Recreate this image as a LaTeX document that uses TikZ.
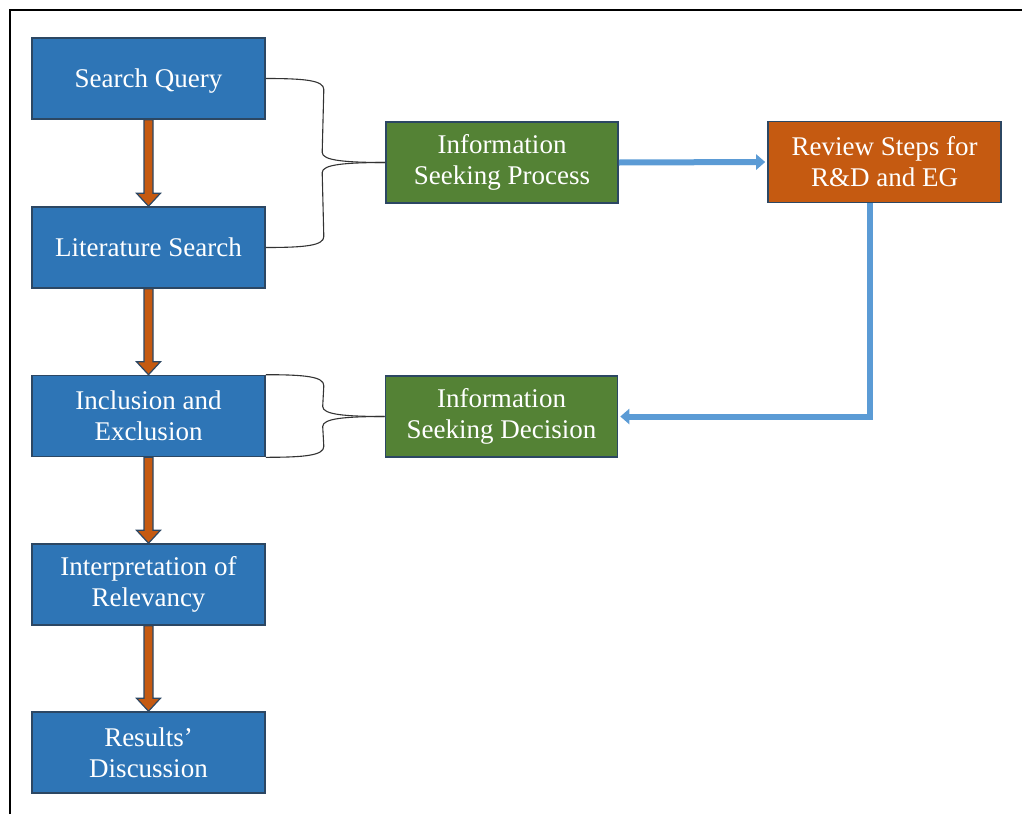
\documentclass[tikz,border=0pt]{standalone}
\usepackage{fontspec}
\setmainfont{Liberation Serif}
\usetikzlibrary{calc,arrows.meta}
\definecolor{boxblue}{HTML}{2E75B6}
\definecolor{boxgreen}{HTML}{548235}
\definecolor{boxorange}{HTML}{C55A11}
\definecolor{edgeblue}{HTML}{2C4763}
\definecolor{linkblue}{HTML}{5B9BD5}
\tikzset{
  stage/.style={draw=edgeblue, line width=1.6pt, minimum width=233pt, minimum height=81pt,
    inner sep=0pt, align=center, text=white,
    font=\fontsize{27}{31}\selectfont},
  stepbox/.style={stage, fill=boxblue},
  phasebox/.style={stage, fill=boxgreen, minimum width=232pt},
  reviewbox/.style={stage, fill=boxorange},
  flowarrow/.style={draw=edgeblue, fill=boxorange, line width=1.2pt, line join=miter},
  linkarrow/.style={draw=linkblue, line width=6pt,
    -{Triangle[width=15pt,length=9pt]}},
  bracket/.style={draw=black!80, line width=1.1pt},
}
% vertical block arrow between two stacked nodes
\newcommand\stagearrow[2]{%
  \path[flowarrow] ($(#1.south)+(-4.5,0)$) -- ($(#2.north)+(-4.5,-13)$)
    -- ($(#2.north)+(-12,-13)$) -- (#2.north) -- ($(#2.north)+(12,-13)$)
    -- ($(#2.north)+(4.5,-13)$) -- ($(#1.south)+(4.5,0)$) -- cycle;}
\begin{document}
\begin{tikzpicture}[x=1pt,y=-1pt]
\useasboundingbox (0,0) rectangle (1022,814);
% page frame
\coordinate (fl) at (10,814);
\coordinate (fc) at (10,10);
\coordinate (fr) at (1022,10);
\draw[line width=1.3pt] (fl) -- (fc) -- (fr);

% left column
\node[stepbox, text depth=0pt] (q) at (148.5,78.5) {Search Query};
\node[stepbox] (l) at (148.5,247.5) {Literature Search};
\node[stepbox] (i) at (148.5,416) {Inclusion and\\Exclusion};
\node[stepbox] (r) at (148.5,584.5) {Interpretation of\\Relevancy};
\node[stepbox] (s) at (148.5,752.5) {Results'\\Discussion};

% middle and right
\node[phasebox] (p) at (502,162.5) {Information\\Seeking Process};
\node[phasebox] (d) at (501.5,416.5) {Information\\Seeking Decision};
\node[reviewbox] (v) at (884.5,162) {Review Steps for\\R\&D and EG};

% block arrows down the column
\stagearrow{q}{l}
\stagearrow{l}{i}
\stagearrow{i}{r}
\stagearrow{r}{s}

% links through the review step
\draw[linkarrow, shorten >=2pt] (p.east) -- (v.west);
\draw[linkarrow, shorten >=2pt] ($(v.south)+(-15,0)$) |- (d.east);

% brace grouping the first two steps
\draw[bracket] (q.east) .. controls ($(q.east)+(40,0)$) and ($(q.east)+(58,2)$) .. ($(q.east)+(58,11)$)
  -- ($(p.west)+(-63,-10)$) .. controls ($(p.west)+(-63,-2)$) and ($(p.west)+(-40,0)$) .. (p.west);
\draw[bracket] (p.west) .. controls ($(p.west)+(-40,0)$) and ($(p.west)+(-63,2)$) .. ($(p.west)+(-63,10)$)
  -- ($(l.east)+(58,-11)$) .. controls ($(l.east)+(58,-2)$) and ($(l.east)+(40,0)$) .. (l.east);

% brace spanning the inclusion step
\draw[bracket] (i.north east) .. controls ($(i.north east)+(40,0)$) and ($(i.north east)+(58,2)$) .. ($(i.north east)+(58,11)$)
  -- ($(d.west)+(-62,-10)$) .. controls ($(d.west)+(-62,-2)$) and ($(d.west)+(-40,0)$) .. (d.west);
\draw[bracket] (d.west) .. controls ($(d.west)+(-40,0)$) and ($(d.west)+(-62,2)$) .. ($(d.west)+(-62,10)$)
  -- ($(i.south east)+(58,-11)$) .. controls ($(i.south east)+(58,-2)$) and ($(i.south east)+(40,0)$) .. (i.south east);
\end{tikzpicture}
\end{document}
